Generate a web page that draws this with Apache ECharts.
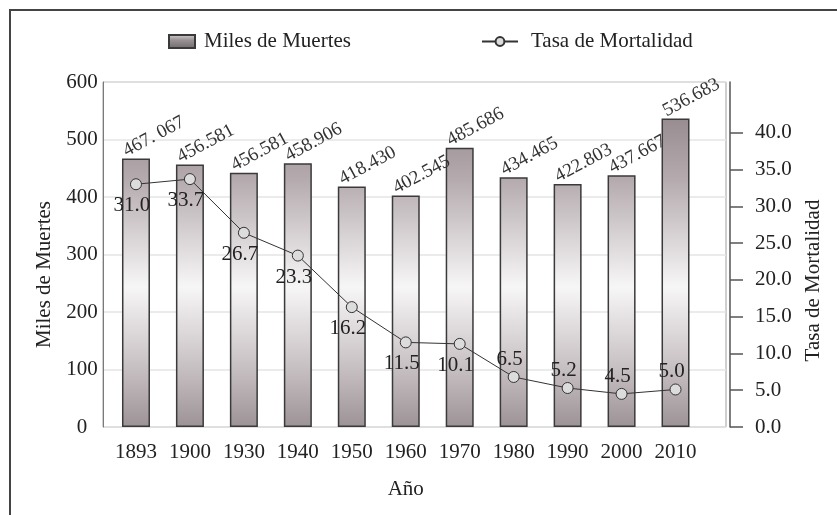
<!DOCTYPE html>
<html><head><meta charset="utf-8">
<script src="https://cdn.jsdelivr.net/npm/echarts@6/dist/echarts.min.js"></script>
<style>html,body{margin:0;padding:0;background:#fff}#c{width:837px;height:515px}</style>
</head><body><div id="c"></div>
<script>
const years = ['1893','1900','1930','1940','1950','1960','1970','1980','1990','2000','2010'];
const deaths = [467.067, 456.581, 442.0, 458.906, 418.430, 402.545, 485.686, 434.465, 422.803, 437.667, 536.683];
const deathLabels = ['467. 067','456.581','456.581','458.906','418.430','402.545','485.686','434.465','422.803','437.667','536.683'];
const rate = [33.0, 33.7, 26.4, 23.3, 16.3, 11.5, 11.3, 6.8, 5.3, 4.5, 5.1];
const rateLabels = ['31.0','33.7','26.7','23.3','16.2','11.5','10.1','6.5','5.2','4.5','5.0'];
const ratePos = ['bottom','bottom','bottom','bottom','bottom','bottom','bottom','top','top','top','top'];
const leftTicks = [0,100,200,300,400,500,600];
const rightTicks = [0,5,10,15,20,25,30,35,40];

const FONT = 'Liberation Serif';
const TXT = '#222';
const chart = echarts.init(document.getElementById('c'), null, {renderer:'canvas'});

const barGrad = new echarts.graphic.LinearGradient(0, 116, 0, 427, [
  {offset:0, color:'#978b90'},
  {offset:0.2, color:'#b4aaae'},
  {offset:0.55, color:'#f7f6f6'},
  {offset:0.8, color:'#c9c2c5'},
  {offset:1, color:'#9d9397'}
], true);
const legendGrad = new echarts.graphic.LinearGradient(0, 0, 0, 1, [
  {offset:0, color:'#d8d4d6'},
  {offset:0.4, color:'#9a9396'},
  {offset:1, color:'#6f686b'}
]);

const option = {
  backgroundColor:'#fff',
  animation:false,
  textStyle:{fontFamily:FONT},
  graphic:[{type:'rect', shape:{x:10, y:10, width:900, height:600}, style:{fill:'none', stroke:'#444', lineWidth:2}, silent:true}],
  legend:[
    {data:[{name:'Miles de Muertes', icon:'rect', itemStyle:{color:legendGrad}}], left:168, top:31, padding:0, itemWidth:26, itemHeight:13,
     textStyle:{fontFamily:FONT, fontSize:21, color:TXT, padding:[0,0,0,4]}},
    {data:['Tasa de Mortalidad'], left:481, top:31, padding:0, itemWidth:36, itemHeight:11,
     textStyle:{fontFamily:FONT, fontSize:21, color:TXT, padding:[0,0,0,8]}}
  ],
  grid:[
    {left:103, top:82, width:623, height:345, show:true, borderColor:'#a0a0a0', borderWidth:1, containLabel:false},
    {left:109, top:82, width:593.5, height:345, containLabel:false}
  ],
  xAxis:[
    {gridIndex:0, type:'value', min:0, max:1, show:false},
    {gridIndex:1, type:'category', data:years, axisLine:{show:false}, axisTick:{show:false},
     axisLabel:{fontFamily:FONT, fontSize:21, color:TXT, margin:15, interval:0},
     name:'Año', nameLocation:'middle', nameGap:52, nameTextStyle:{fontFamily:FONT, fontSize:21, color:TXT}}
  ],
  yAxis:[
    {gridIndex:0, type:'value', min:0, max:600, interval:100,
     axisLine:{show:true, lineStyle:{color:'#7a7a7a', width:1}}, axisTick:{show:false},
     axisLabel:{fontFamily:FONT, fontSize:21, color:TXT, margin:21, align:'center', customValues:leftTicks},
     splitLine:{show:true, lineStyle:{color:'#e4e4e4', width:1.5}},
     name:'Miles de Muertes', nameLocation:'middle', nameGap:40, nameRotate:90,
     nameTextStyle:{fontFamily:FONT, fontSize:21, color:TXT, padding:[0,40,0,0]}},
    {gridIndex:1, type:'value', min:0, max:600, show:false},
    {gridIndex:1, type:'value', min:0, max:46.9, position:'right', offset:27.5,
     axisLine:{show:true, lineStyle:{color:'#555', width:1.5}},
     axisTick:{show:true, inside:false, length:13, lineStyle:{color:'#555', width:1.5}, customValues:rightTicks},
     axisLabel:{fontFamily:FONT, fontSize:21, color:TXT, margin:25, formatter:v=>v.toFixed(1), customValues:rightTicks},
     splitLine:{show:false},
     name:'Tasa de Mortalidad', nameLocation:'middle', nameGap:73, nameRotate:90,
     nameTextStyle:{fontFamily:FONT, fontSize:21, color:TXT, padding:[0,52,0,0]}}
  ],
  series:[
    {name:'Miles de Muertes', type:'bar', xAxisIndex:1, yAxisIndex:1, barWidth:28,
     data:deaths.map((v,i)=>({value:v, label:{formatter:deathLabels[i]}})),
     itemStyle:{color:barGrad, borderColor:'#3a3a3a', borderWidth:1.5},
     label:{show:true, position:[7,2], rotate:28, align:'left', verticalAlign:'bottom',
       fontFamily:FONT, fontSize:19, color:'#333'}},
    {name:'Tasa de Mortalidad', type:'line', xAxisIndex:1, yAxisIndex:2,
     data:rate.map((v,i)=>({value:v, label:{position:ratePos[i], formatter:rateLabels[i], offset:ratePos[i]==='bottom'?[-4,4]:[-4,0]}})),
     symbol:'circle', symbolSize:11, lineStyle:{color:'#333', width:1},
     itemStyle:{color:'#dcdcdc', borderColor:'#333', borderWidth:1},
     label:{show:true, distance:1, fontFamily:FONT, fontSize:21, color:TXT}, z:5}
  ]
};
chart.setOption(option);
</script></body></html>
